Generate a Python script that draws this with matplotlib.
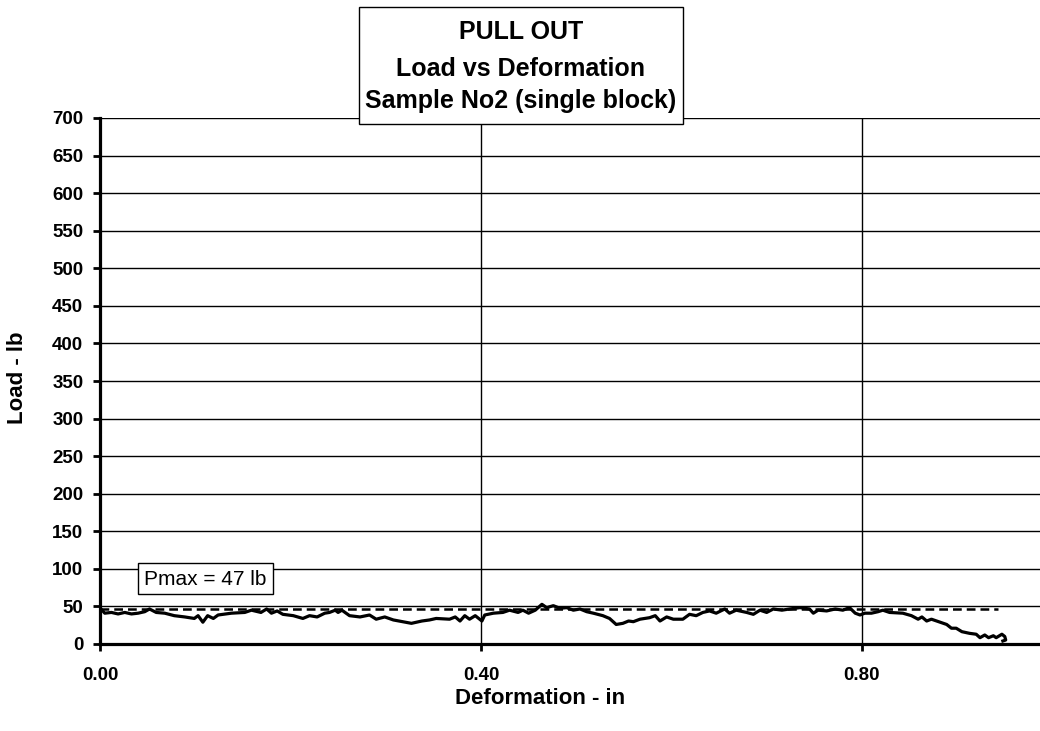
import matplotlib.pyplot as plt
from matplotlib.patches import Rectangle

plt.rcParams['font.family'] = ['Liberation Sans', 'DejaVu Sans']

# deformation (in) and load (lb)
deformation = [0.001, 0.005, 0.012, 0.019, 0.026, 0.033, 0.040, 0.047, 0.052, 0.059,
               0.068, 0.078, 0.089, 0.099, 0.103, 0.108, 0.113, 0.119, 0.124, 0.138,
               0.152, 0.159, 0.169, 0.175, 0.180, 0.186, 0.192, 0.203, 0.213, 0.220,
               0.228, 0.236, 0.241, 0.247, 0.250, 0.254, 0.262, 0.273, 0.283, 0.290,
               0.299, 0.308, 0.318, 0.327, 0.338, 0.346, 0.353, 0.367, 0.373, 0.378,
               0.383, 0.388, 0.394, 0.401, 0.404, 0.413, 0.423, 0.430, 0.439, 0.444,
               0.450, 0.457, 0.464, 0.469, 0.476, 0.483, 0.490, 0.497, 0.504, 0.511,
               0.518, 0.528, 0.535, 0.542, 0.549, 0.555, 0.560, 0.567, 0.577, 0.583,
               0.588, 0.595, 0.602, 0.612, 0.619, 0.626, 0.633, 0.640, 0.647, 0.656,
               0.661, 0.668, 0.679, 0.686, 0.693, 0.700, 0.707, 0.716, 0.724, 0.735,
               0.745, 0.749, 0.754, 0.763, 0.772, 0.780, 0.787, 0.793, 0.798, 0.803,
               0.810, 0.817, 0.822, 0.829, 0.843, 0.852, 0.859, 0.863, 0.868, 0.873,
               0.882, 0.889, 0.894, 0.899, 0.905, 0.913, 0.920, 0.924, 0.929, 0.933,
               0.938, 0.941, 0.947, 0.950, 0.951, 0.948]
load = [46.6, 41, 42, 40, 42, 40, 41, 43, 46.6, 42,
        41, 37.7, 36, 34, 37.7, 29, 37.7, 34, 38.6, 41,
        42, 45, 42, 46.6, 41, 44, 39.5, 37.7, 34, 37.7,
        36, 41, 42, 45, 42, 45, 37.7, 36, 38.6, 33,
        36, 32, 29.7, 27.5, 30.6, 32, 34, 33, 36, 30.6,
        37.7, 33, 37.7, 30.6, 38.6, 41, 42, 45, 42, 45,
        41, 45, 52.8, 48.4, 51, 47.5, 48.4, 45, 46.6, 43,
        41, 37.7, 34, 26, 27.5, 30.6, 29.7, 33, 35, 37.7,
        30.6, 36, 33, 33, 39.5, 37.7, 42, 44, 41, 46.6,
        41, 45, 42, 39.5, 45, 42, 46.6, 45, 46.6, 48.4,
        46.6, 41, 45, 44, 46.6, 45, 48.4, 41, 38.6, 41,
        41, 43, 45, 42, 41, 37.7, 33, 36, 30.6, 33,
        29, 26, 21, 21, 16.4, 14.2, 13, 8.4, 12, 8.4,
        11, 8.4, 13, 10, 5.3, 4]

pmax = 47
pmax_x = [0.0, 0.943]
x_ticks = [0.0, 0.4, 0.8]
y_ticks = list(range(0, 701, 50))

fig = plt.figure(figsize=(10.4, 7.31), dpi=100)
ax = fig.add_axes([100/1040, 87/731, 940/1040, 526/731])

ax.plot(deformation, load, color='black', lw=2.3, zorder=3)
ax.plot(pmax_x, [pmax, pmax], color='black', lw=1.8, ls=(0, (3.5, 2)), zorder=3)

ax.set_xlim(0, 0.987)
ax.set_ylim(0, 700)
ax.set_xticks(x_ticks)
ax.set_xticklabels(['%.2f' % v for v in x_ticks])
ax.set_yticks(y_ticks)
ax.grid(True, color='black', lw=1.0)
for s in ['top', 'right']:
    ax.spines[s].set_visible(False)
for s in ['left', 'bottom']:
    ax.spines[s].set_linewidth(2.3)
ax.tick_params(axis='both', length=5, width=2, labelsize=13.5)
ax.tick_params(axis='x', pad=11.5)
ax.tick_params(axis='y', pad=7)
for lab in ax.get_xticklabels() + ax.get_yticklabels():
    lab.set_fontweight('bold')

fig.text(18/1040, 1 - 378/731, 'Load - lb', rotation=90, ha='center', va='center',
         fontsize=16, fontweight='bold')
fig.text(540/1040, 1 - 698/731, 'Deformation - in', ha='center', va='center',
         fontsize=16, fontweight='bold')

# title box
fig.patches.append(Rectangle((359/1040, 1 - 124/731), 324/1040, 117/731,
                             transform=fig.transFigure, fc='white', ec='black', lw=1, zorder=5))
title_lines = ['PULL OUT', 'Load vs Deformation', 'Sample No2 (single block)']
for line, base in zip(title_lines, [39, 76, 108]):
    fig.text(521/1040, 1 - base/731, line, ha='center', va='baseline',
             fontsize=18, fontweight='bold', zorder=6)

# Pmax box
fig.patches.append(Rectangle((138/1040, 1 - 594/731), 135/1040, 31/731,
                             transform=fig.transFigure, fc='white', ec='black', lw=1, zorder=5))
fig.text(205.5/1040, 1 - 585/731, 'Pmax = 47 lb', ha='center', va='baseline',
         fontsize=15, zorder=6)

plt.savefig('out.png', dpi=100)
